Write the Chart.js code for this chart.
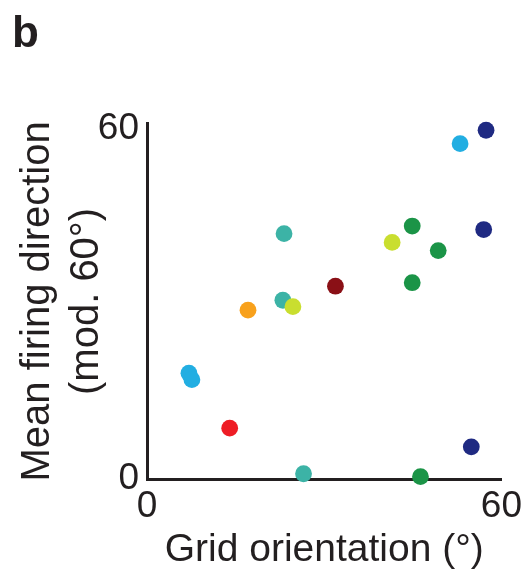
<!DOCTYPE html>
<html>
<head>
<meta charset="utf-8">
<script src="https://cdn.jsdelivr.net/npm/chart.js@4.4.1/dist/chart.umd.min.js"></script>
<style>
  html, body { margin: 0; padding: 0; background: #fff; }
  #wrap { width: 528px; height: 581px; }
</style>
</head>
<body>
<div id="wrap"><canvas id="orientation-chart"></canvas></div>
<script>
// grid orientation vs mean firing direction, one point per cell
const gridOrientation = [57.4, 53.0, 57.0, 44.9, 41.5, 49.3, 23.2, 31.9, 44.9, 23.0, 24.7, 17.1, 7.1, 7.6, 14.0, 54.9, 26.5, 46.3];
const firingDirection = [59.7, 57.4, 42.7, 43.3, 40.5, 39.1, 42.0, 33.0, 33.6, 30.6, 29.5, 28.9, 18.1, 17.0, 8.7, 5.5, 0.9, 0.4];
const pointColours = ['#1f2a82', '#22aee2', '#1f2a82', '#1b9447', '#c9de2f', '#1b9447', '#3cb3a6', '#8a1016', '#1b9447',
    '#3cb3a6', '#c9de2f', '#f8a11c', '#22aee2', '#22aee2', '#ee1d25', '#1f2a82', '#3cb3a6', '#1b9447'];
const xTicks = [0, 60];
const yTicks = [0, 60];

const axisColour = '#231f20';
const fontFamily = '"Liberation Sans", Arial, Helvetica, sans-serif';

const points = gridOrientation.map((x, i) => ({ x: x, y: firingDirection[i] }));

const ctx = document.getElementById('orientation-chart').getContext('2d');
window.myChart = new Chart(ctx, {
    type: 'scatter',
    data: {
        datasets: [{
            data: points,
            backgroundColor: pointColours,
            borderWidth: 0,
            pointRadius: 8.4,
            pointHoverRadius: 8.4,
            clip: false,
        }],
    },
    options: {
        responsive: true,
        maintainAspectRatio: false,
        animation: false,
        layout: {
            padding: { left: 12, top: 0, right: 26, bottom: 0 },
        },
        plugins: {
            legend: { display: false },
            tooltip: { enabled: false },
            title: {
                display: true,
                text: 'b',
                align: 'start',
                color: axisColour,
                font: { family: fontFamily, size: 44, weight: 'bold', lineHeight: 1.2 },
                padding: { top: 8, bottom: 63 },
            },
        },
        scales: {
            x: {
                type: 'linear',
                min: 0,
                max: 60,
                afterBuildTicks: axis => { axis.ticks = xTicks.map(v => ({ value: v })); },
                afterFit: axis => { axis.height = 102; },
                grid: { display: false, drawTicks: false },
                border: { display: true, color: axisColour, width: 3 },
                ticks: {
                    color: axisColour,
                    padding: 6,
                    maxRotation: 0,
                    font: { family: fontFamily, size: 37 },
                },
                title: {
                    display: true,
                    text: 'Grid orientation (°)',
                    color: axisColour,
                    font: { family: fontFamily, size: 39, lineHeight: 1.2 },
                    padding: { top: 0, bottom: 7 },
                },
            },
            y: {
                type: 'linear',
                min: 0,
                max: 60.8,
                afterBuildTicks: axis => { axis.ticks = yTicks.map(v => ({ value: v })); },
                afterFit: axis => { axis.width = 135; },
                grid: { display: false, drawTicks: false },
                border: { display: true, color: axisColour, width: 3 },
                ticks: {
                    color: axisColour,
                    padding: 8,
                    font: { family: fontFamily, size: 37 },
                },
                title: {
                    display: true,
                    text: ['Mean firing direction', '(mod. 60°)'],
                    color: axisColour,
                    font: { family: fontFamily, size: 40, lineHeight: '49px' },
                    padding: { top: 1, bottom: 0 },
                },
            },
        },
    },
});
</script>
</body>
</html>
